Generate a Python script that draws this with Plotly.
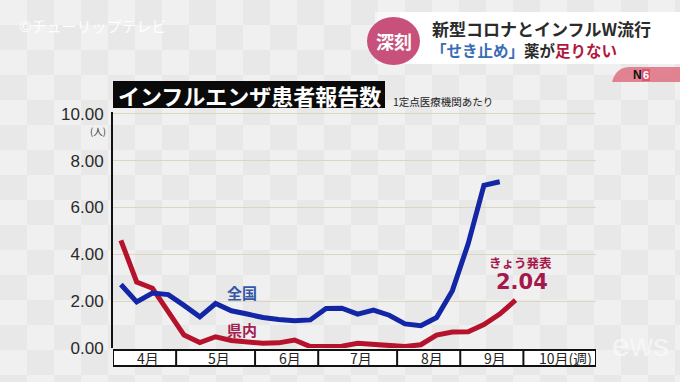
import base64
import plotly.graph_objects as go

# ---------------- data ----------------
months = ["4月", "5月", "6月", "7月", "8月", "9月", "10月(週)"]
weeks_per_month = [4, 5, 4, 5, 4, 4]          # weeks shown for Apr..Sep
x_end = 30.6                                   # axis end (weeks)

# weekly reports per sentinel medical institution
zenkoku = [2.71, 1.97, 2.35, 2.28, 1.82, 1.33, 1.90, 1.59, 1.45, 1.30,
           1.22, 1.16, 1.20, 1.69, 1.70, 1.45, 1.62, 1.40, 1.03, 0.95,
           1.30, 2.45, 4.45, 6.95, 7.10]
kennai = [4.60, 2.82, 2.55, 1.55, 0.55, 0.23, 0.48, 0.32, 0.28, 0.20,
          0.22, 0.34, 0.06, 0.05, 0.08, 0.20, 0.14, 0.08, 0.06, 0.14,
          0.55, 0.68, 0.69, 1.00, 1.45, 2.04]
y_ticks = [0, 2, 4, 6, 8, 10]
latest_value = kennai[-1]

# ---------------- geometry helpers (pixel -> paper) ----------------
FW, FH = 680, 382
L, R, T, B = 113, 84, 112, 34
PW, PH = FW - L - R, FH - T - B


def px(x):
    return (x - L) / PW


def py(y):
    return (FH - B - y) / PH


JP = "Noto Sans CJK JP"
NUM = "Liberation Sans, Arial, sans-serif"

fig = go.Figure()

xs_z = [i + 0.5 for i in range(len(zenkoku))]
xs_k = [i + 0.5 for i in range(len(kennai))]

fig.add_trace(go.Scatter(x=xs_k, y=kennai, mode="lines", name="県内",
                         line=dict(color="#b5122c", width=5), hoverinfo="skip"))
fig.add_trace(go.Scatter(x=xs_z, y=zenkoku, mode="lines", name="全国",
                         line=dict(color="#1326a6", width=5), hoverinfo="skip"))

# ---------------- background checker (svg data-uri) ----------------
tw, th = 27, 25
rects = []
for r_ in range(FH // th + 1):
    for c_ in range(FW // tw + 1):
        if (r_ + c_) % 2 == 0:
            rects.append(f"<rect x='{c_*tw}' y='{r_*th}' width='{tw}' height='{th}' fill='#f0f0f0'/>")
svg = (f"<svg xmlns='http://www.w3.org/2000/svg' width='{FW}' height='{FH}'>"
       f"<rect width='{FW}' height='{FH}' fill='#e8e8e8'/>" + "".join(rects) + "</svg>")
uri = "data:image/svg+xml;base64," + base64.b64encode(svg.encode()).decode()
fig.add_layout_image(dict(source=uri, xref="paper", yref="paper",
                          x=px(0), y=py(0), sizex=FW / PW, sizey=FH / PH,
                          sizing="stretch", layer="below", xanchor="left", yanchor="top"))

shapes = []
ann = []


def note(x, y, text, size, color, family=JP, xanchor="center", ref="paper", align="center"):
    if ref == "paper":
        ann.append(dict(x=px(x), y=py(y), xref="paper", yref="paper", text=text,
                        showarrow=False, xanchor=xanchor, yanchor="middle", align=align,
                        font=dict(family=family, size=size, color=color)))
    else:
        ann.append(dict(x=x, y=y, xref="x", yref="y", text=text,
                        showarrow=False, xanchor=xanchor, yanchor="middle", align=align,
                        font=dict(family=family, size=size, color=color)))


# ---------------- month bar ----------------
shapes.append(dict(type="rect", xref="x", yref="paper", x0=0, x1=x_end,
                   y0=py(366), y1=py(350), fillcolor="white",
                   line=dict(color="#111", width=2), layer="above"))
bounds = [0]
for w in weeks_per_month:
    bounds.append(bounds[-1] + w)
for b in bounds[1:]:
    shapes.append(dict(type="line", xref="x", yref="paper", x0=b, x1=b,
                       y0=py(366), y1=py(350), line=dict(color="#111", width=2)))
cells = bounds + [x_end]
for i, m in enumerate(months):
    if i == len(months) - 1:
        xa, xx = "right", cells[i + 1] - 0.15
    else:
        xa, xx = "center", (cells[i] + cells[i + 1]) / 2 + 0.2
    ann.append(dict(x=xx, y=py(358), xref="x", yref="paper", text=m,
                    showarrow=False, xanchor=xa, yanchor="middle",
                    font=dict(family=JP, size=14, color="#222")))

# ---------------- title ----------------
shapes.append(dict(type="rect", xref="paper", yref="paper", x0=px(113), x1=px(385),
                   y0=py(108), y1=py(81), fillcolor="#0a0a0a", line=dict(width=0)))
note(249, 95, "<b>インフルエンザ患者報告数</b>", 22, "white")
note(391, 102, "1定点医療機関あたり", 10.5, "#222", xanchor="left")
note(108, 131, "(人)", 9.5, "#333", xanchor="right")

# ---------------- series labels ----------------
note(8.2, 2.35, "<b>全国</b>", 15, "#3457a6", ref="data")
note(8.2, 0.8, "<b>県内</b>", 15, "#a22150", ref="data")
note(25.8, 3.65, "<b>きょう発表</b>", 12.5, "#a6174b", ref="data")
note(25.9, 2.8, f"<b>{latest_value:.2f}</b>", 21, "#a6174b", family="DejaVu Sans", ref="data")

# ---------------- broadcast header ----------------
note(92, 25, "©チューリップテレビ", 15, "rgba(255,255,255,0.95)")
shapes.append(dict(type="rect", xref="paper", yref="paper", x0=px(375), x1=px(400),
                   y0=py(64), y1=py(12), fillcolor="rgba(255,255,255,0.5)", line=dict(width=0)))
shapes.append(dict(type="rect", xref="paper", yref="paper", x0=px(400), x1=px(680),
                   y0=py(64), y1=py(12), fillcolor="white", line=dict(width=0)))
shapes.append(dict(type="circle", xref="paper", yref="paper", x0=px(367), x1=px(420),
                   y0=py(65), y1=py(17), fillcolor="#c8517c", line=dict(width=0)))
note(393.5, 41, "<b>深刻</b>", 18, "white")
note(430, 28, "<b>新型コロナとインフルW流行</b>", 17, "#2b2b2b", xanchor="left")
note(429, 50.5, "<b><span style='color:#3a6cb6'>「せき止め」</span>薬が"
                "<span style='color:#b0173c'>足りない</span></b>", 15.5, "#2b2b2b", xanchor="left")
# N6 badge
shapes.append(dict(type="path", xref="paper", yref="paper",
                   path=f"M {px(612)} {py(82)} Q {px(616)} {py(67)} {px(630)} {py(67)} "
                        f"L {px(680)} {py(67)} L {px(680)} {py(82)} Z",
                   fillcolor="rgba(222,112,128,0.85)", line=dict(width=0)))
note(637, 75, "<b>N</b>", 12, "#111", family=NUM)
shapes.append(dict(type="rect", xref="paper", yref="paper", x0=px(642), x1=px(650),
                   y0=py(81), y1=py(69), fillcolor="#d9566e", line=dict(width=0)))
note(646, 75, "<b>6</b>", 11, "white", family=NUM)
# faint watermark
note(640, 345, "ews", 32, "rgba(255,255,255,0.55)", family=NUM)

fig.update_layout(
    width=FW, height=FH,
    margin=dict(l=L, r=R, t=T, b=B, pad=0),
    paper_bgcolor="#e8e8e8",
    plot_bgcolor="#f6f1df",
    showlegend=False,
    shapes=shapes,
    annotations=ann,
    xaxis=dict(range=[0, x_end], showgrid=False, zeroline=False, showline=False,
               showticklabels=False, ticks="", fixedrange=True),
    yaxis=dict(range=[0, 10.08], tickvals=y_ticks, tickformat=".2f", showgrid=True,
               gridcolor="#dcd5c2", gridwidth=1, zeroline=False, showline=True,
               linecolor="#111", linewidth=2, ticks="", ticklabelstandoff=4,
               tickfont=dict(family=NUM, size=17, color="#2a2a2a"), fixedrange=True),
)

fig.write_html("out.html", config={"displayModeBar": False},
               post_script="document.body.style.margin='0';document.body.style.overflow='hidden';")
